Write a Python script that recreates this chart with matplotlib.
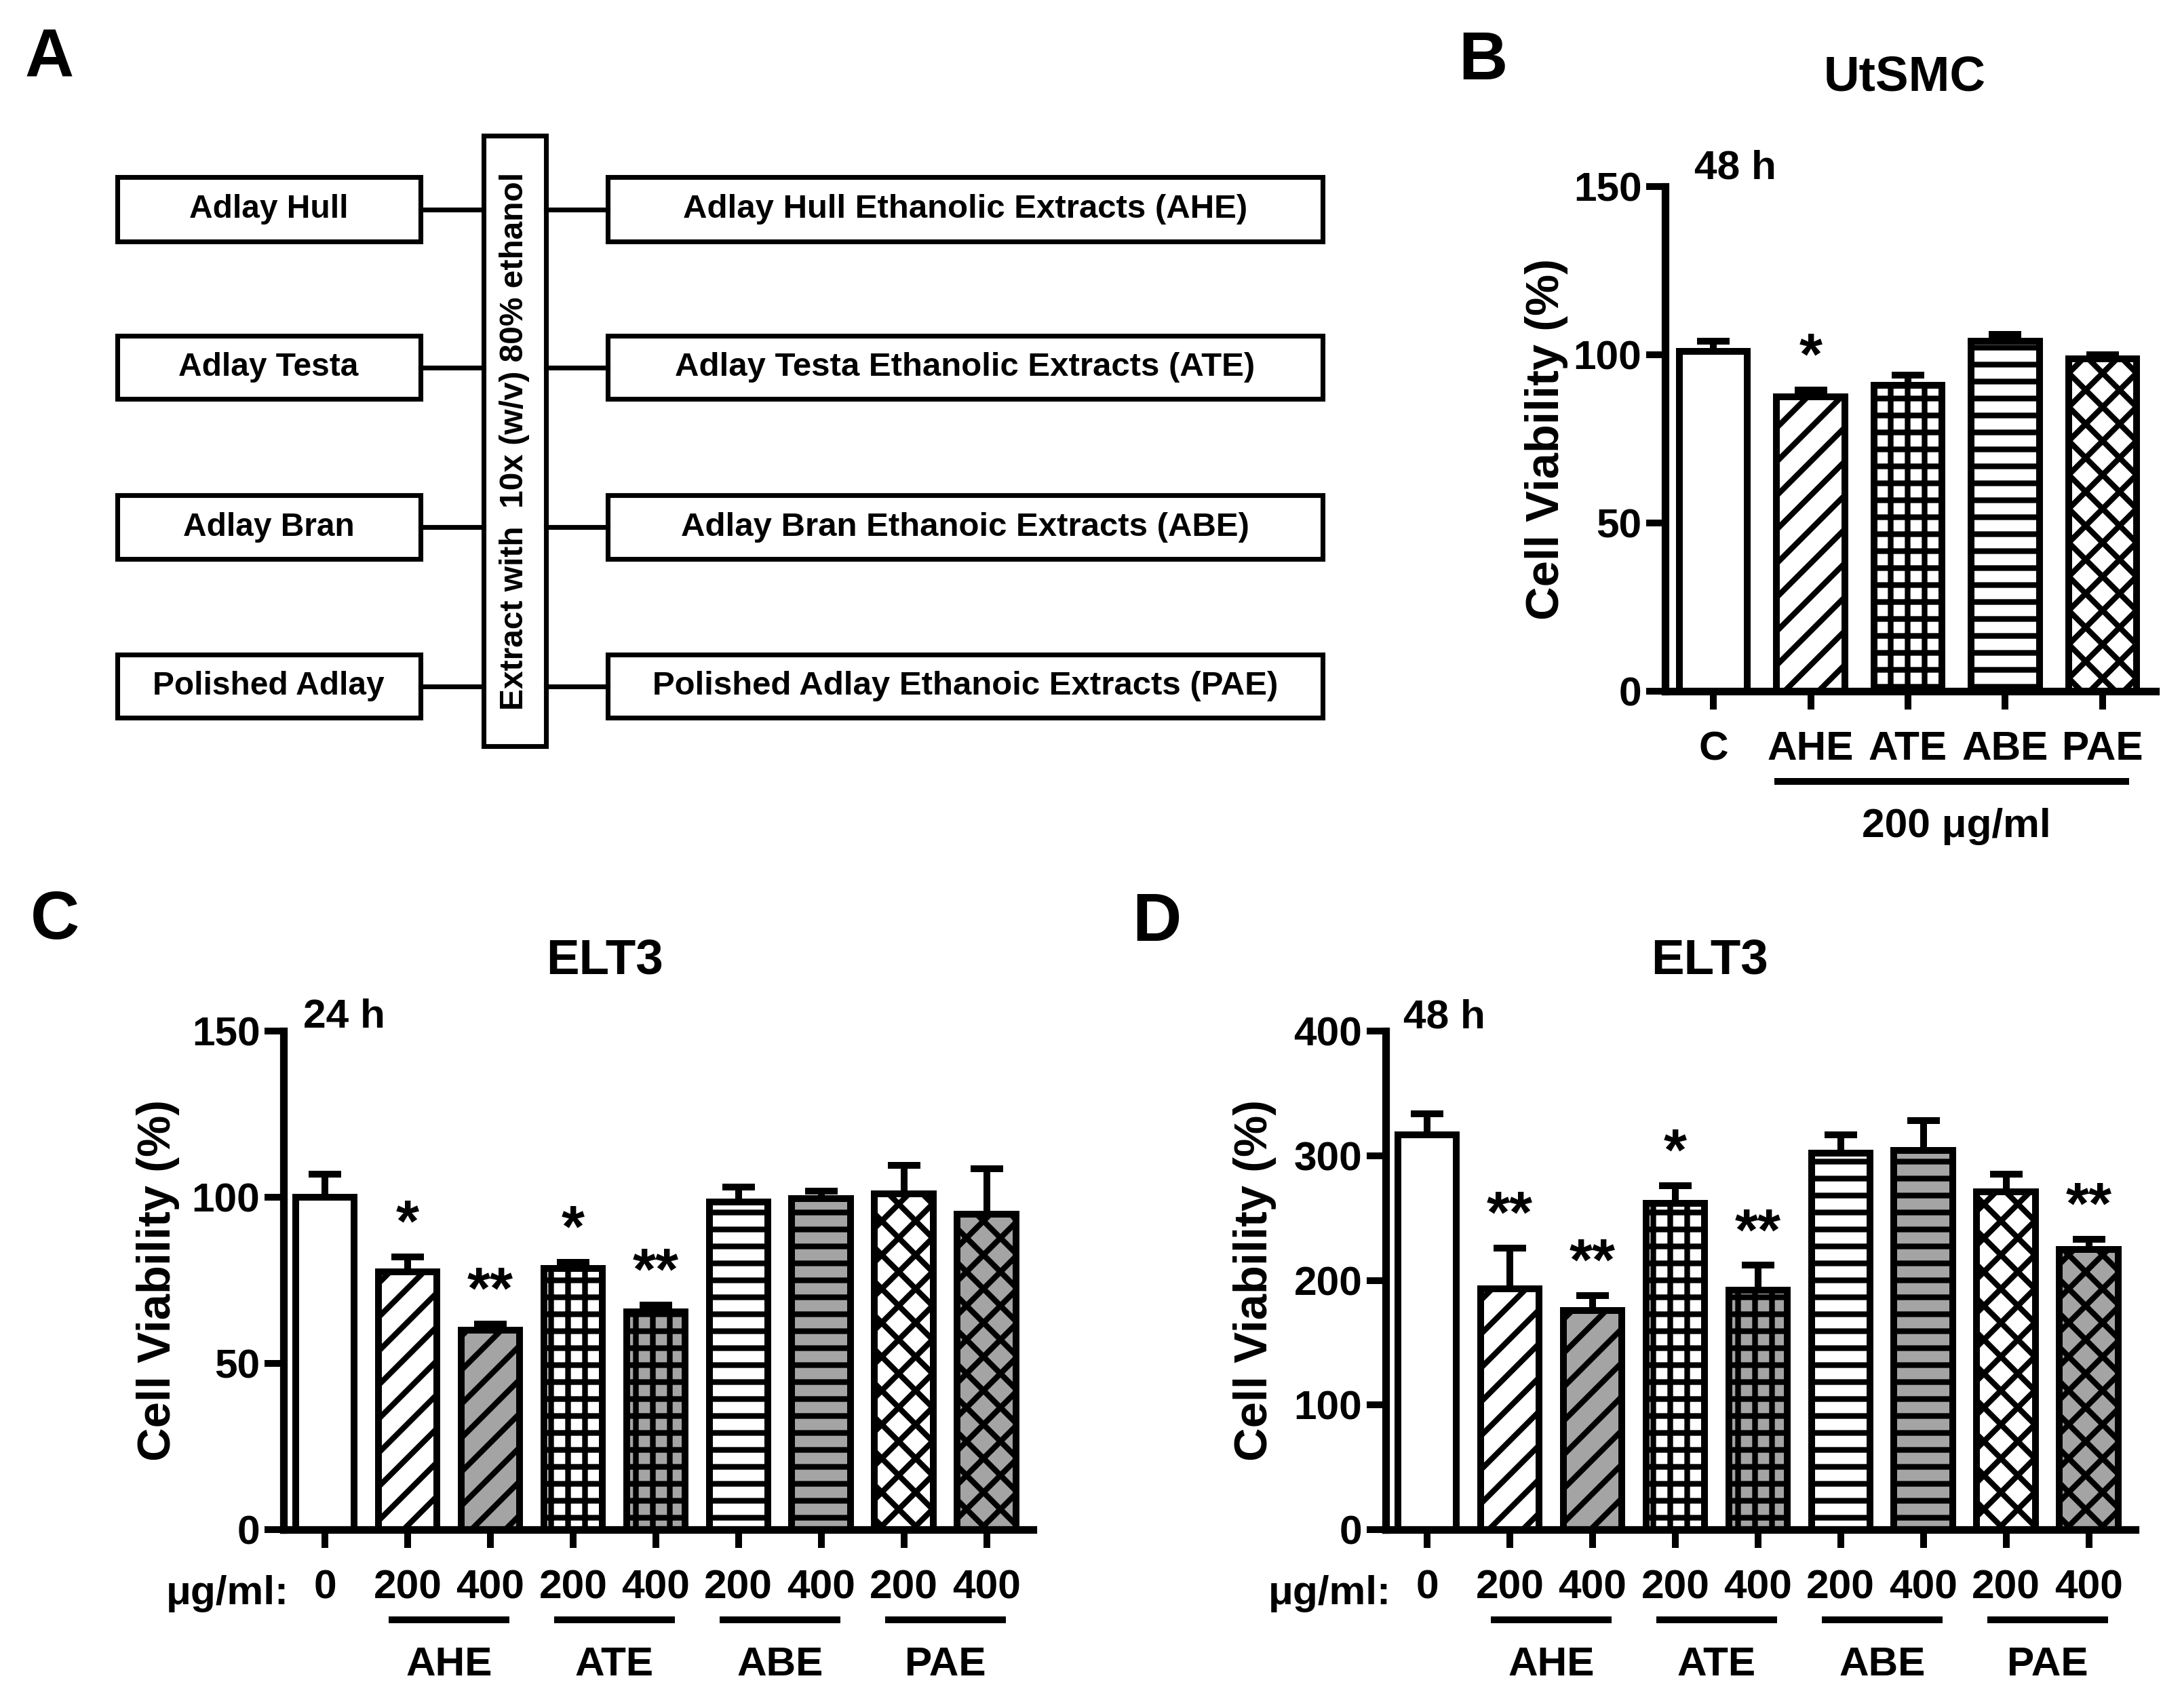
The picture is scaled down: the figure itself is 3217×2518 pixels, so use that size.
import numpy as np
import matplotlib
matplotlib.use('Agg')
import matplotlib.pyplot as plt
from matplotlib.patches import Rectangle

W, H = 3217, 2518
DPI = 300

# panel A: flow chart
parts = ['Adlay Hull', 'Adlay Testa', 'Adlay Bran', 'Polished Adlay']
products = ['Adlay Hull Ethanolic Extracts (AHE)',
            'Adlay Testa Ethanolic Extracts (ATE)',
            'Adlay Bran Ethanoic Extracts (ABE)',
            'Polished Adlay Ethanoic Extracts (PAE)']
step = 'Extract with  10x (w/v) 80% ethanol'

# panel B: UtSMC, 48 h, 200 ug/ml
b_names = ['C', 'AHE', 'ATE', 'ABE', 'PAE']
b_mean = [101, 87.5, 91, 104, 98.8]
b_err = [3, 2, 3, 2, 1.2]
b_sig = ['', '*', '', '', '']

# panels C, D: ELT3, 24 h and 48 h
doses = ['0', '200', '400', '200', '400', '200', '400', '200', '400']
extracts = ['AHE', 'ATE', 'ABE', 'PAE']
c_mean = [100, 77.5, 60, 78.5, 65.5, 98.5, 99.5, 101, 95]
c_err = [7, 4.5, 1.8, 2, 2, 4.5, 2.3, 8.5, 13.5]
c_sig = ['', '*', '**', '*', '**', '', '', '', '']
d_mean = [317, 193, 176, 262, 192, 302, 304, 271, 225]
d_err = [16.5, 33, 12, 14, 20, 15, 24, 14, 8]
d_sig = ['', '**', '**', '*', '**', '', '', '', '**']

GRAY = '#a4a4a4'
HATCH = {'C': '', 'AHE': '//', 'ATE': '++', 'ABE': '--', 'PAE': 'xx'}

plt.rcParams['font.family'] = ['Liberation Sans', 'DejaVu Sans']
plt.rcParams['font.weight'] = 'bold'
plt.rcParams['font.size'] = 14.5
plt.rcParams['axes.linewidth'] = 2.7
plt.rcParams['hatch.linewidth'] = 2.0
plt.rcParams['hatch.color'] = 'black'
plt.rcParams['xtick.major.width'] = 2.4
plt.rcParams['ytick.major.width'] = 2.4
plt.rcParams['xtick.major.size'] = 6.5
plt.rcParams['ytick.major.size'] = 6.8
plt.rcParams['xtick.major.pad'] = 7.5
plt.rcParams['ytick.major.pad'] = 1.5

fig = plt.figure(figsize=(W / DPI, H / DPI), dpi=DPI)

# overlay in pixel units for the chart, titles and letters
ov = fig.add_axes([0, 0, 1, 1])
ov.set_xlim(0, W)
ov.set_ylim(H, 0)
ov.axis('off')
ov.patch.set_alpha(0)


def px_axes(left, right, top, bottom):
    return fig.add_axes([left / W, 1 - bottom / H, (right - left) / W, (bottom - top) / H])


def draw_bars(ax, mean, err, sig, faces, hatches, width):
    x = np.arange(len(mean))
    bs = ax.bar(x, mean, width, color=faces, edgecolor='black', linewidth=2.4, zorder=2)
    for b, h in zip(bs, hatches):
        b.set_hatch(h)
    ax.errorbar(x, mean, yerr=[np.zeros(len(err)), err], fmt='none', ecolor='black',
                elinewidth=2.4, capsize=5.8, capthick=2.4, zorder=3)
    for xi, m, e, s in zip(x, mean, err, sig):
        if s:
            ax.annotate(s, (xi, m + e), xytext=(0, 11), textcoords='offset points',
                        ha='center', va='center', fontsize=21)
    return x


def style(ax, ymax, dy, xlim):
    ax.spines[['top', 'right']].set_visible(False)
    ax.set_ylim(0, ymax)
    ax.set_yticks(np.arange(0, ymax + 1, dy))
    ax.set_xlim(*xlim)


# ---- panel A
rows = [(261, 356), (495, 588), (730, 824), (965, 1058)]
for (y0, y1), p, q in zip(rows, parts, products):
    ov.add_patch(Rectangle((173, y0), 447, y1 - y0, fill=False, ec='black', lw=1.7))
    ov.add_patch(Rectangle((896, y0), 1054, y1 - y0, fill=False, ec='black', lw=1.7))
    ym = (y0 + y1) / 2
    ov.plot([620, 713], [ym, ym], color='black', lw=1.7)
    ov.plot([805, 896], [ym, ym], color='black', lw=1.7)
    ov.text(396, ym, p, ha='center', va='center', fontsize=11.5)
    ov.text(1423, ym, q, ha='center', va='center', fontsize=11.8)
ov.add_patch(Rectangle((713, 200), 92, 900, fill=False, ec='black', lw=1.7))
ov.text(759, 650, step, rotation=90, ha='center', va='center', fontsize=11.5)

# ---- panel B
axb = px_axes(2455, 3178, 275, 1019)
xb = draw_bars(axb, b_mean, b_err, b_sig, ['white'] * 5, [HATCH[n] for n in b_names], 0.70)
style(axb, 150, 50, (-0.495, 4.544))
axb.set_xticks(xb, b_names)
trb = axb.get_xaxis_transform()
axb.plot([0.63, 4.27], [-0.179, -0.179], transform=trb, color='black', lw=2.4,
         clip_on=False, solid_capstyle='butt')
axb.text(2.5, -0.289, '200 \u03bcg/ml', transform=trb, ha='center', va='baseline')


# ---- panels C and D
def elt3(ax, mean, err, sig, ymax, dy):
    faces = ['white'] + [('white' if d == '200' else GRAY) for d in doses[1:]]
    hatches = [''] + [HATCH[extracts[i // 2]] for i in range(len(doses) - 1)]
    x = draw_bars(ax, mean, err, sig, faces, hatches, 0.71)
    style(ax, ymax, dy, (-0.5, 8.56))
    ax.set_xticks(x, doses)
    tr = ax.get_xaxis_transform()
    for i, name in enumerate(extracts):
        x0, x1 = 1 + 2 * i, 2 + 2 * i
        ax.plot([x0 - 0.23, x1 + 0.23], [-0.181, -0.181], transform=tr, color='black',
                lw=2.4, clip_on=False, solid_capstyle='butt')
        ax.text((x0 + x1) / 2, -0.2925, name, transform=tr, ha='center', va='baseline')
    ax.text(-0.44, -0.15, '\u03bcg/ml:', transform=tr, ha='right', va='baseline')


axc = px_axes(418, 1523, 1520, 2255)
elt3(axc, c_mean, c_err, c_sig, 150, 50)
axd = px_axes(2043, 3148, 1520, 2255)
elt3(axd, d_mean, d_err, d_sig, 400, 100)

# ---- titles, labels, letters
for s, x, y in [('A', 37, 113), ('B', 2150, 117), ('C', 45, 1384), ('D', 1669, 1387)]:
    ov.text(x, y, s, ha='left', va='baseline', fontsize=24)
for s, x, y in [('UtSMC', 2808, 133), ('ELT3', 892, 1435), ('ELT3', 2521, 1435)]:
    ov.text(x, y, s, ha='center', va='baseline', fontsize=17.5)
for s, x, y in [('48 h', 2498, 263), ('24 h', 447, 1515), ('48 h', 2069, 1515)]:
    ov.text(x, y, s, ha='left', va='baseline', fontsize=14.5)
for x, y in [(2280, 647), (233, 1888), (1850, 1888)]:
    ov.text(x, y, 'Cell Viability (%)', rotation=90, ha='center', va='center', fontsize=16.5)

fig.savefig('out.png', dpi=DPI)
